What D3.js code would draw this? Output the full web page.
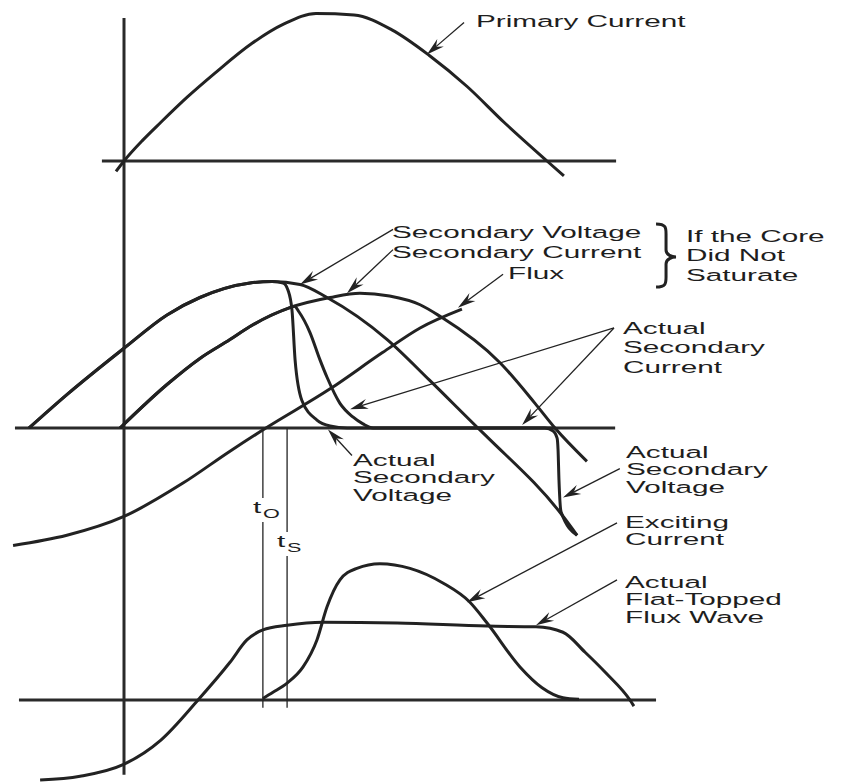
<!DOCTYPE html>
<html>
<head>
<meta charset="utf-8">
<script src="https://cdn.jsdelivr.net/npm/d3@7"></script>
<style>
  html, body { margin: 0; padding: 0; background: #fff; }
  svg { display: block; }
  text { font-family: "Liberation Sans", Arial, Helvetica, sans-serif; fill: #1e1e1e; }
</style>
</head>
<body>
<svg id="chart" width="841" height="782"></svg>
<script>
// Time runs in electrical degrees (0 = primary current zero crossing).
// Values are per-unit of each panel's reference amplitude.

// --- top panel ---
const primaryCurrent = [[-3.4,-0.07],[0,0],[8,0.14],[15.7,0.26],[27,0.43],[38.7,0.59],[54.5,0.79],[68.1,0.92],[81.7,0.99],[97.9,0.98],[114,0.88],[129.8,0.71],[146,0.50],[161.7,0.26],[180,0],[187.2,-0.10]];

// --- middle panel (unsaturated core) ---
const secondaryVoltage = [[-40.4,0],[-24.3,0.23],[0,0.55],[18.3,0.78],[32.3,0.90],[53.6,1.0],[63,1.01],[74.9,0.99],[86.4,0.90],[112,0.61],[130,0.33],[150.6,0],[155.7,-0.08],[186.4,-0.60],[192.8,-0.74]];
const secondaryCurrent = [[-1.7,0],[18.3,0.30],[32.3,0.48],[45.1,0.61],[53.6,0.70],[70.6,0.83],[87.7,0.90],[100.4,0.93],[113,0.91],[126,0.85],[134.5,0.77],[160,0.45],[174.9,0.17],[183.4,0],[197,-0.23]];
const flux = [[-47.2,-0.81],[-24.3,-0.74],[0,-0.61],[25.1,-0.38],[45.1,-0.16],[60.4,0],[87.7,0.27],[110,0.52],[126,0.69],[143.8,0.82]];

// --- middle panel (saturated core) ---
const actualVoltage = [[-40.4,0],[-24.3,0.23],[0,0.55],[18.3,0.78],[32.3,0.90],[53.6,1.0],[63,1.01],[67.7,1.0],[69.8,0.95],[71.5,0.81],[72.8,0.47],[75.7,0.19],[82.1,0.055],[87.7,0.014],[95,0],[179.1,0],[182.6,-0.02],[184.3,-0.07],[184.7,-0.15],[185.1,-0.36],[186.0,-0.58],[192.8,-0.74]];
const actualCurrent = [[-1.7,0],[18.3,0.30],[32.3,0.48],[45.1,0.61],[53.6,0.70],[70.6,0.83],[72.5,0.84],[74.5,0.80],[79.1,0.66],[83.4,0.47],[86.4,0.35],[91.9,0.17],[97.4,0.076],[101.7,0.028],[106,0],[183.4,0]];

// --- bottom panel ---
const flatTopFlux = [[-35.7,-1.04],[-18.7,-0.99],[-0.4,-0.84],[15.7,-0.52],[31.5,0],[45.1,0.49],[52.3,0.78],[59.1,0.91],[69.4,0.97],[84.7,1.01],[116.2,1.0],[154.5,0.96],[175.3,0.95],[186.8,0.88],[196.2,0.62],[205.1,0.35],[215.3,0],[217,-0.08]];
const excitingCurrent = [[59.1,0.02],[63.4,0.10],[69.4,0.22],[76.2,0.43],[82.1,0.78],[86.4,1.21],[91.9,1.56],[99.1,1.71],[108.9,1.77],[121.7,1.71],[135.7,1.52],[147.2,1.27],[154.5,1.0],[168.5,0.43],[177.9,0.16],[186.8,0.03],[193.6,0.01]];

// instants marked below the middle panel
const tOnset = 59.1;      // t_O
const tSaturation = 69.4; // t_S

// baseline extents (degrees)
const topBaseline = [-9.4, 209.4];
const midBaseline = [-46.4, 209];
const botBaseline = [-44.7, 226.4];

// ---------------------------------------------------------------
const svg = d3.select("#chart");
const ink = "#222";

const x = d3.scaleLinear().domain([0, 180]).range([124, 547]);
const yTop = d3.scaleLinear().domain([0, 1]).range([161, 12]);
const yMid = d3.scaleLinear().domain([0, 1]).range([428, 283]);
const yBot = d3.scaleLinear().domain([0, 1]).range([700, 623]);

const gen = ys => d3.line().x(d => x(d[0])).y(d => ys(d[1])).curve(d3.curveMonotoneX);

// axes
const axes = svg.append("g").attr("stroke", "#2a2a2a").attr("stroke-width", 3).attr("fill", "none");
axes.append("line").attr("x1", x(0)).attr("x2", x(0)).attr("y1", yTop(0.96)).attr("y2", yBot(-0.97));
[[topBaseline, yTop], [midBaseline, yMid], [botBaseline, yBot]].forEach(([ext, ys]) => {
  axes.append("line").attr("x1", x(ext[0])).attr("x2", x(ext[1])).attr("y1", ys(0)).attr("y2", ys(0));
});

// time markers
const marks = svg.append("g").attr("stroke", ink).attr("stroke-width", 1.3);
[tOnset, tSaturation].forEach(t => {
  marks.append("line").attr("x1", x(t)).attr("x2", x(t)).attr("y1", yMid(0)).attr("y2", yBot(-0.1));
});

// waveforms
const curves = svg.append("g").attr("fill", "none").attr("stroke", ink).attr("stroke-width", 3)
  .attr("stroke-linejoin", "round").attr("stroke-linecap", "butt");
[
  [primaryCurrent, yTop],
  [secondaryVoltage, yMid],
  [secondaryCurrent, yMid],
  [flux, yMid],
  [actualVoltage, yMid],
  [actualCurrent, yMid],
  [flatTopFlux, yBot],
  [excitingCurrent, yBot]
].forEach(([data, ys]) => curves.append("path").attr("d", gen(ys)(data)));

// text helper: wide sans lettering
const stretch = 1.8;
const fontSize = 16.5;
function label(px, py, lines, lh, size) {
  const g = svg.append("g").attr("transform", `translate(${px},${py}) scale(${stretch},1)`);
  lines.forEach((s, i) => g.append("text").attr("x", 0).attr("y", i * lh)
    .attr("font-size", size || fontSize).text(s));
  return g;
}

// subscripted instant labels with a white gap in the marker line
function instantLabel(t, py, sub) {
  const px = x(t) - 10;
  svg.append("rect").attr("x", px - 1).attr("y", py - 15).attr("width", 30).attr("height", 24).attr("fill", "#fff");
  label(px, py, ["t"], 0, 16.5);
  label(px + 10, py + 5, [sub], 0, 12);
}
instantLabel(tOnset, 513, "O");
instantLabel(tSaturation, 547, "S");

// arrows: tail and tip given as [degrees, value] in a panel
function arrow(tail, tip, ys) {
  const x0 = x(tail[0]), y0 = ys(tail[1]), x1 = x(tip[0]), y1 = ys(tip[1]);
  const a = Math.atan2(y1 - y0, x1 - x0);
  const L = 18, W = 5, N = 12;
  const pt = (d, w) => [x1 - d * Math.cos(a) - w * Math.sin(a), y1 - d * Math.sin(a) + w * Math.cos(a)];
  svg.append("line").attr("x1", x0).attr("y1", y0).attr("x2", pt(N, 0)[0]).attr("y2", pt(N, 0)[1])
    .attr("stroke", ink).attr("stroke-width", 1.3);
  svg.append("path").attr("d", "M" + [[x1, y1], pt(L, W), pt(N, 0), pt(L, -W)].map(p => p.join(",")).join("L") + "Z")
    .attr("fill", ink);
}

arrow([144.7, 0.93], [128.9, 0.715], yTop);
arrow([114.5, 1.37], [74.9, 0.99], yMid);
arrow([114.5, 1.23], [94.9, 0.93], yMid);
arrow([161.3, 1.06], [142.1, 0.83], yMid);
arrow([208.5, 0.69], [96.2, 0.13], yMid);
arrow([208.5, 0.69], [169.4, 0.02], yMid);
arrow([97, -0.19], [86.8, -0.01], yMid);
arrow([211, -0.28], [186.8, -0.48], yMid);
arrow([209.8, 2.30], [146, 1.27], yBot);
arrow([209.8, 1.56], [175.3, 0.97], yBot);

// labels
label(476, 27, ["Primary Current"], 0);
label(392, 238, ["Secondary Voltage"], 0);
label(392, 258, ["Secondary Current"], 0);
label(508, 279, ["Flux"], 0);
label(686, 242, ["If the Core", "Did Not", "Saturate"], 19.5);
label(623, 334, ["Actual", "Secondary", "Current"], 19.5);
label(353, 466, ["Actual", "Secondary", "Voltage"], 17.5);
label(626, 458, ["Actual", "Secondary", "Voltage"], 17.5);
label(625, 528, ["Exciting", "Current"], 17.5);
label(625, 588, ["Actual", "Flat-Topped", "Flux Wave"], 17.5);

// curly brace grouping the three unsaturated-core labels
(function brace() {
  const bx = x(226.4), top = yMid(1.407), bot = yMid(0.972), mid = yMid(1.179), d = 10, tip = 20;
  const p = `M${bx},${top} C${bx + d},${top} ${bx + d},${top + 4} ${bx + d},${top + 10}
    L${bx + d},${mid - 7} C${bx + d},${mid - 2} ${bx + tip - 4},${mid} ${bx + tip},${mid}
    C${bx + tip - 4},${mid} ${bx + d},${mid + 2} ${bx + d},${mid + 7}
    L${bx + d},${bot - 10} C${bx + d},${bot - 4} ${bx + d},${bot} ${bx},${bot}`;
  svg.append("path").attr("d", p).attr("fill", "none").attr("stroke", ink).attr("stroke-width", 3);
})();
</script>
</body>
</html>
